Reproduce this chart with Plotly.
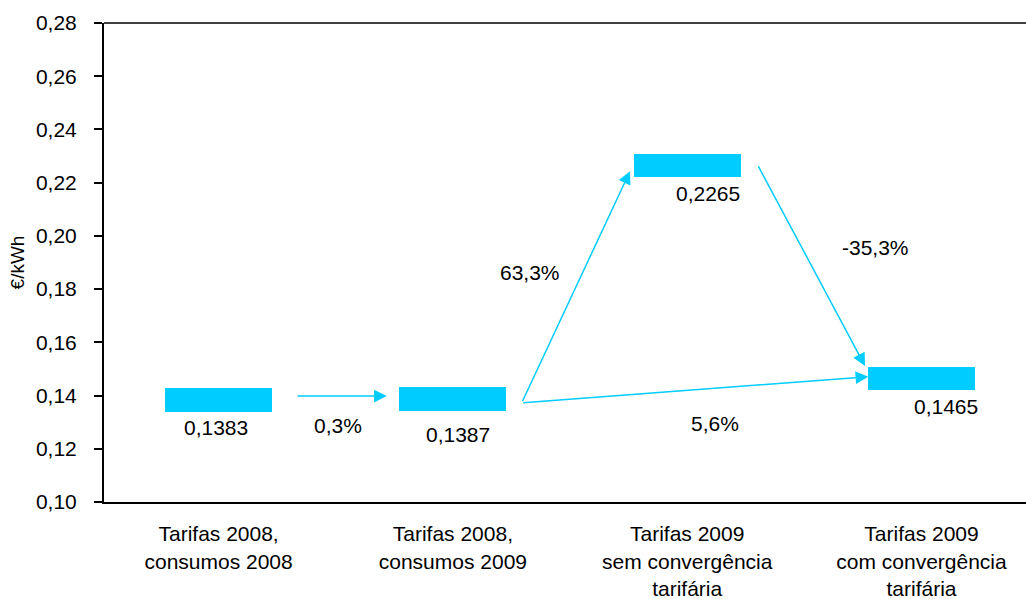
import plotly.graph_objects as go

# Average price per scenario (€/kWh)
categories = [
    "Tarifas 2008,<br>consumos 2008",
    "Tarifas 2008,<br>consumos 2009",
    "Tarifas 2009<br>sem convergência<br>tarifária",
    "Tarifas 2009<br>com convergência<br>tarifária",
]
prices = [0.1383, 0.1387, 0.2265, 0.1465]
y_ticks = [0.10, 0.12, 0.14, 0.16, 0.18, 0.20, 0.22, 0.24, 0.26, 0.28]

# Transitions between scenarios: (from index, to index)
transitions = [(0, 1), (1, 2), (1, 3), (2, 3)]

CYAN = "#00CCFF"
FONT = "Liberation Sans, Arial, sans-serif"
FS = 21
BAR_H = 0.0088
BAR_W = 0.457

xs = list(range(len(prices)))


def fmt(v, nd):
    return f"{v:.{nd}f}".replace(".", ",")


fig = go.Figure()

# Each price drawn as a short thick horizontal block centred on its value
fig.add_trace(go.Bar(
    x=xs,
    y=[BAR_H] * len(prices),
    base=[p - BAR_H / 2 for p in prices],
    width=BAR_W,
    marker=dict(color=CYAN, line=dict(width=0)),
    hoverinfo="skip",
    showlegend=False,
))

annotations = []

# Value labels under each block
value_offsets = [(-0.012, -0.0103), (0.02, -0.0133), (0.087, -0.0106), (0.105, -0.0105)]
for i, p in enumerate(prices):
    dx, dy = value_offsets[i]
    annotations.append(dict(
        x=i + dx, y=p + dy, xref="x", yref="y",
        text=fmt(p, 4), showarrow=False,
        font=dict(family=FONT, size=FS, color="black"),
    ))

# Arrow geometry: tail/tip offsets relative to the blocks they connect
arrow_geom = {
    (0, 1): ((0.331, 0.0015), (-0.282, 0.0011)),
    (1, 2): ((0.294, -0.0014), (-0.244, -0.0022)),
    (1, 3): ((0.294, -0.0014), (-0.227, 0.0006)),
    (2, 3): ((0.300, 0.0003), (-0.241, 0.0046)),
}
# Percentage label positions (x in category units, y in €/kWh)
pct_pos = {
    (0, 1): (0.508, 0.1288),
    (1, 2): (1.329, 0.1863),
    (1, 3): (2.119, 0.1296),
    (2, 3): (2.802, 0.1956),
}

for a, b in transitions:
    (tdx, tdy), (hdx, hdy) = arrow_geom[(a, b)]
    annotations.append(dict(
        x=b + hdx, y=prices[b] + hdy, xref="x", yref="y",
        ax=a + tdx, ay=prices[a] + tdy, axref="x", ayref="y",
        text="", showarrow=True,
        arrowhead=2, arrowsize=1.7, arrowwidth=1.5, arrowcolor=CYAN,
        standoff=0, startstandoff=0,
    ))
    change = (prices[b] / prices[a] - 1) * 100
    px_, py_ = pct_pos[(a, b)]
    annotations.append(dict(
        x=px_, y=py_, xref="x", yref="y",
        text=fmt(change, 1) + "%", showarrow=False,
        font=dict(family=FONT, size=FS, color="black"),
    ))

fig.update_layout(
    width=1026, height=599,
    margin=dict(l=104, r=0, t=23, b=97),
    paper_bgcolor="white", plot_bgcolor="white",
    font=dict(family=FONT, size=FS, color="black"),
    annotations=annotations,
    shapes=[dict(
        type="line", xref="paper", yref="paper",
        x0=0, x1=1, y0=1, y1=1,
        line=dict(color="black", width=1.5),
    )],
    bargap=0,
)

fig.update_xaxes(
    range=[-0.489, 3.446],
    tickmode="array", tickvals=xs, ticktext=categories,
    ticks="", showgrid=False, zeroline=False,
    showline=True, linecolor="black", linewidth=2,
    tickfont=dict(family=FONT, size=FS, color="black"),
    ticklabelstandoff=12,
)
fig.update_yaxes(
    range=[0.10, 0.28],
    tickmode="array", tickvals=y_ticks,
    ticktext=[fmt(t, 2) for t in y_ticks],
    ticks="outside", ticklen=8, tickwidth=1.5, tickcolor="black",
    showgrid=False, zeroline=False,
    showline=True, linecolor="black", linewidth=2,
    tickfont=dict(family=FONT, size=FS, color="black"),
    ticklabelstandoff=13,
    title=dict(text="€/kWh", font=dict(family=FONT, size=19, color="black"), standoff=6),
)

fig.write_html("out.html")
